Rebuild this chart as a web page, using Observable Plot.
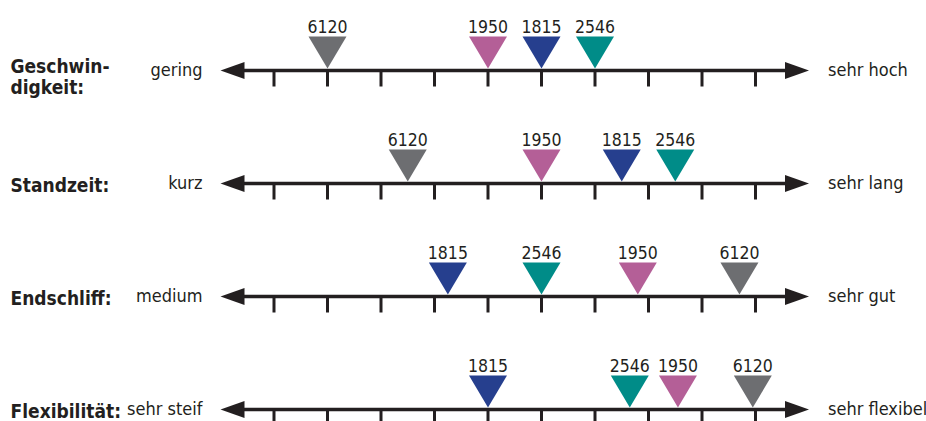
<!DOCTYPE html>
<html>
<head>
<meta charset="utf-8">
<script src="https://cdn.jsdelivr.net/npm/d3@7"></script>
<script src="https://cdn.jsdelivr.net/npm/@observablehq/plot@0.6"></script>
<style>
  html, body { margin: 0; padding: 0; background: #fff; }
</style>
</head>
<body>
<div id="chart"></div>
<script>
// ---- data ----
const rows = ["Geschwindigkeit", "Standzeit", "Endschliff", "Flexibilität"];
const rowLabels = ["Geschwin-\ndigkeit:", "Standzeit:", "Endschliff:", "Flexibilität:"];
const leftLabels = ["gering", "kurz", "medium", "sehr steif"];
const rightLabels = ["sehr hoch", "sehr lang", "sehr gut", "sehr flexibel"];
const products = ["6120", "1950", "1815", "2546"];
const productColors = ["#6d6e71", "#b45f97", "#263f8e", "#008c88"];
// position on the scale (ticks 1..10) per row, in products order
const positions = [
  [2, 5, 6, 7],
  [3.5, 6, 7.5, 8.5],
  [9.7, 7.8, 4.25, 6],
  [9.95, 8.55, 5, 7.65]
];
const scaleTicks = [1, 2, 3, 4, 5, 6, 7, 8, 9, 10];
const scaleEnds = [0, 11];

// ---- derived tables ----
const markers = rows.flatMap((r, i) => products.map((p, j) => ({row: r, product: p, pos: positions[i][j]})));
const tickData = rows.flatMap(r => scaleTicks.map(t => ({row: r, t})));
const rowTable = rows.map((r, i) => ({row: r, label: rowLabels[i], left: leftLabels[i], right: rightLabels[i]}));
const isMultiline = d => d.label.includes("\n");

// ---- custom symbols ----
const downTriangle = {draw(ctx) { ctx.moveTo(-19, -34); ctx.lineTo(19, -34); ctx.lineTo(0, -2); ctx.closePath(); }};
const headLeft = {draw(ctx) { ctx.moveTo(0, 0); ctx.lineTo(24, -8.5); ctx.lineTo(24, 8.5); ctx.closePath(); }};
const headRight = {draw(ctx) { ctx.moveTo(0, 0); ctx.lineTo(-24, -8.5); ctx.lineTo(-24, 8.5); ctx.closePath(); }};
const tickDown = {draw(ctx) { ctx.moveTo(0, 0); ctx.lineTo(0, 16); }};

const ink = "#231f20";
const font = "'Liberation Sans Narrow', 'DejaVu Sans Condensed', Roboto, sans-serif";
const labelStyle = {frameAnchor: "left", y: "row", text: "label", dx: 10, textAnchor: "start", lineAnchor: "middle", lineHeight: 1.15, fontSize: 19, fontWeight: "bold", fill: ink};

const chart = Plot.plot({
  width: 926,
  height: 421,
  margin: 0,
  style: {fontFamily: font, background: "#fff", color: ink},
  x: {domain: [0, 11], range: [220, 808.5], axis: null},
  y: {type: "point", domain: rows, range: [69, 409], padding: 0, axis: null},
  color: {domain: products, range: productColors},
  marks: [
    Plot.ruleY(rows, {y: d => d, x1: scaleEnds[0], x2: scaleEnds[1], insetLeft: 10, insetRight: 10, stroke: ink, strokeWidth: 3.5}),
    Plot.dot(tickData, {x: "t", y: "row", symbol: tickDown, fill: "none", stroke: ink, strokeWidth: 3}),
    Plot.dot(rows, {x: () => scaleEnds[0], y: d => d, symbol: headLeft, fill: ink, stroke: "none"}),
    Plot.dot(rows, {x: () => scaleEnds[1], y: d => d, symbol: headRight, fill: ink, stroke: "none"}),
    Plot.dot(markers, {x: "pos", y: "row", symbol: downTriangle, fill: "product", stroke: "none"}),
    Plot.text(markers, {x: "pos", y: "row", text: "product", dy: -38, lineAnchor: "bottom", textAnchor: "middle", fontSize: 17.5, fill: ink}),
    Plot.text(rowTable, {x: () => scaleEnds[0], y: "row", text: "left", dx: -18, textAnchor: "end", lineAnchor: "middle", fontSize: 18, fill: ink}),
    Plot.text(rowTable, {x: () => scaleEnds[1], y: "row", text: "right", dx: 19, textAnchor: "start", lineAnchor: "middle", fontSize: 18, fill: ink}),
    Plot.text(rowTable, {...labelStyle, filter: d => !isMultiline(d), dy: 1}),
    Plot.text(rowTable, {...labelStyle, filter: isMultiline, dy: 6})
  ]
});
document.getElementById("chart").appendChild(chart);
</script>
</body>
</html>
